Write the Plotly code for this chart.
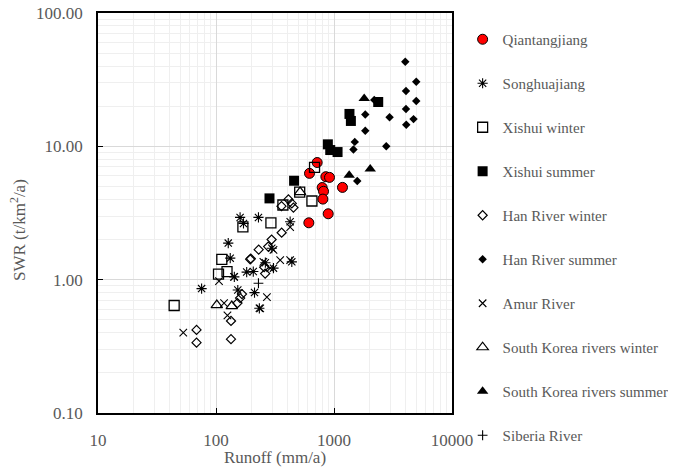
import plotly.graph_objects as go

# Qiantangjiang
qt_runoff = [720, 620, 853, 916, 794, 815, 805, 1180, 893, 612]
qt_swr = [7.56, 6.27, 5.92, 5.85, 4.91, 4.60, 4.02, 4.92, 3.12, 2.67]

# Songhuajiang
sh_runoff = [75.5, 127, 132, 143, 160, 182, 207, 229, 153, 212, 233, 262, 307, 439, 425, 171, 297]
sh_swr = [0.857, 1.88, 1.45, 1.05, 2.93, 1.14, 1.15, 2.93, 0.836, 0.80, 0.61, 1.34, 1.22, 1.36, 2.72, 2.64, 1.72]

# Xishui winter
xw_runoff = [44.2, 112, 105, 124, 169, 292, 369, 512, 650, 684]
xw_swr = [0.64, 1.42, 1.10, 1.15, 2.49, 2.67, 3.63, 4.54, 3.89, 6.96]

# Xishui summer
xs_runoff = [459, 887, 929, 1072, 1352, 1390, 2370, 284]
xs_swr = [5.52, 10.35, 9.38, 9.06, 17.5, 15.5, 21.5, 4.07]

# Han River winter
hw_runoff = [68.4, 68.4, 134, 134, 152, 160, 166, 261, 256, 195, 197, 230, 277, 296, 360, 359, 411, 439, 453]
hw_swr = [0.42, 0.337, 0.49, 0.358, 0.667, 0.728, 0.78, 1.11, 1.24, 1.42, 1.44, 1.68, 1.77, 2.0, 2.25, 3.56, 4.0, 3.73, 3.47]

# Han River summer
hs_runoff = [4018, 4977, 4074, 4977, 4074, 4720, 4095, 2958, 2773, 1841, 1841, 2193, 1500, 1462, 1574]
hs_swr = [43.1, 30.5, 26.0, 21.9, 19.05, 16.0, 14.5, 16.5, 10.0, 17.3, 13.1, 22.3, 10.8, 9.46, 5.49]

# Amur River
am_runoff = [52.8, 106, 117, 125, 270, 237, 142, 350, 425, 288, 307, 425, 252]
am_swr = [0.40, 0.975, 0.667, 0.54, 0.74, 0.61, 1.05, 1.40, 1.40, 1.22, 1.67, 2.48, 1.36]

# South Korea rivers winter
kw_runoff = [101.6, 136, 516]
kw_swr = [0.645, 0.634, 4.54]

# South Korea rivers summer
ks_runoff = [1803, 1345, 2028]
ks_swr = [22.8, 6.06, 6.76]

# Siberia River
sb_runoff = [229]
sb_swr = [0.94]

x_ticks = [10, 100, 1000, 10000]
x_tick_labels = ["10", "100", "1000", "10000"]
y_ticks = [0.1, 1, 10, 100]
y_tick_labels = ["0.10", "1.00", "10.00", "100.00"]

series = [
    ("Qiantangjiang", qt_runoff, qt_swr, dict(symbol="circle", size=10, color="#ff0000", line=dict(color="black", width=1))),
    ("Songhuajiang", sh_runoff, sh_swr, dict(symbol="asterisk-open", size=8.5, color="black", line=dict(color="black", width=1.1))),
    ("Xishui winter", xw_runoff, xw_swr, dict(symbol="square-open", size=10, color="black", line=dict(color="black", width=1.3))),
    ("Xishui summer", xs_runoff, xs_swr, dict(symbol="square", size=10, color="black", line=dict(color="black", width=0))),
    ("Han River winter", hw_runoff, hw_swr, dict(symbol="diamond-open", size=7, color="black", line=dict(color="black", width=1.2))),
    ("Han River summer", hs_runoff, hs_swr, dict(symbol="diamond", size=6.5, color="black", line=dict(color="black", width=0))),
    ("Amur River", am_runoff, am_swr, dict(symbol="x-thin-open", size=7.5, color="black", line=dict(color="black", width=1.1))),
    ("South Korea rivers winter", kw_runoff, kw_swr, dict(symbol="triangle-up-open", size=10, color="black", line=dict(color="black", width=1.2))),
    ("South Korea rivers summer", ks_runoff, ks_swr, dict(symbol="triangle-up", size=10, color="black", line=dict(color="black", width=0))),
    ("Siberia River", sb_runoff, sb_swr, dict(symbol="cross-thin-open", size=7, color="black", line=dict(color="black", width=1.1))),
]

fig = go.Figure()
for i, (name, xs, ys, mk) in enumerate(series):
    fig.add_trace(go.Scatter(x=xs, y=ys, mode="markers", name=name, marker=mk,
                             legendgroup=str(i)))

font_family = "Liberation Serif, Times New Roman, serif"
grey = "#595959"
fig.update_layout(
    width=660, height=459,
    margin=dict(l=90, r=216, t=5, b=54, autoexpand=False),
    plot_bgcolor="white", paper_bgcolor="white",
    font=dict(family=font_family, size=17, color=grey),
    showlegend=True,
    legend=dict(x=1.03, xref="paper", xanchor="left", y=0.975, yanchor="top",
                font=dict(family=font_family, size=15, color=grey),
                tracegroupgap=21.5, itemsizing="trace", itemwidth=30,
                maxheight=2000, bgcolor="rgba(0,0,0,0)"),
    annotations=[dict(text="SWR (t/km<sup>2</sup>/a)", textangle=-90,
                      xref="paper", yref="paper", x=-0.226, y=0.4575,
                      xanchor="center", yanchor="middle", showarrow=False,
                      font=dict(family=font_family, size=17, color=grey))],
)
fig.update_xaxes(
    type="log", range=[1, 4], automargin=False,
    tickvals=x_ticks, ticktext=x_tick_labels,
    tickfont=dict(size=17, color=grey), ticklabelstandoff=11,
    ticklabeloverflow="allow",
    showline=True, linecolor="black", linewidth=1.5, mirror=True,
    ticks="inside", ticklen=5, tickcolor="black",
    showgrid=True, gridcolor="#d9d9d9", gridwidth=1,
    minor=dict(showgrid=True, gridcolor="#efefef", dtick="D1", ticks=""),
    title=dict(text="Runoff (mm/a)", font=dict(family=font_family, size=17, color=grey), standoff=10),
    zeroline=False,
)
fig.update_yaxes(
    type="log", range=[-1, 2], automargin=False,
    tickvals=y_ticks, ticktext=y_tick_labels,
    tickfont=dict(size=17, color=grey), ticklabelstandoff=10,
    ticklabeloverflow="allow",
    showline=True, linecolor="black", linewidth=1.5, mirror=True,
    ticks="inside", ticklen=5, tickcolor="black",
    showgrid=True, gridcolor="#d9d9d9", gridwidth=1,
    minor=dict(showgrid=True, gridcolor="#efefef", dtick="D1", ticks=""),
    zeroline=False,
)

fig.write_html("out.html")
